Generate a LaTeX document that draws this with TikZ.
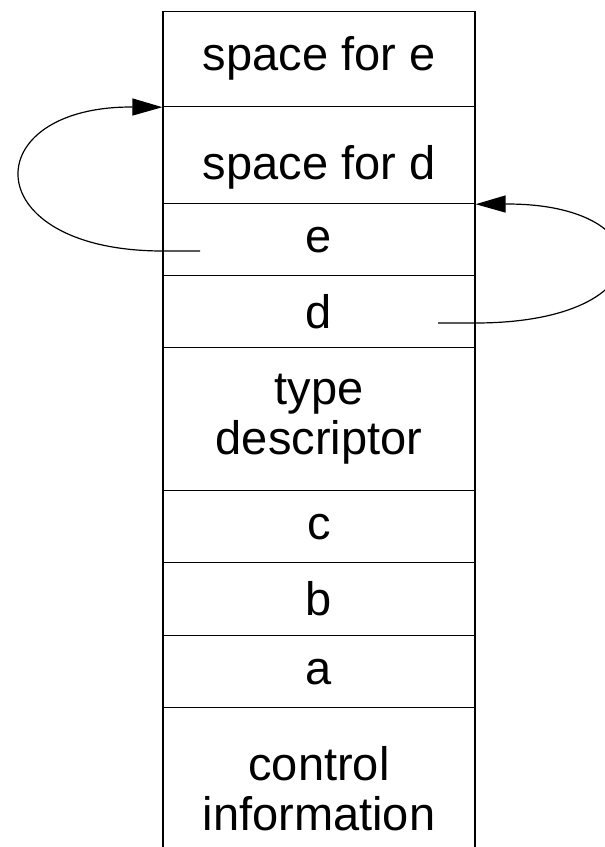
\documentclass[tikz,border=0pt]{standalone}
\usepackage{fontspec}
\setmainfont{Liberation Sans}
\usetikzlibrary{arrows.meta}
\begin{document}
\begin{tikzpicture}[x=1pt,y=-1pt,
  cell/.style={draw, line width=1.2pt, rectangle, inner sep=0pt, minimum width=312pt, anchor=north, align=center,
    font=\fontsize{47}{50}\selectfont},
  ptr/.style={line width=1.2pt, -{Triangle[length=30pt,width=17pt]}}]
\useasboundingbox (0,0) rectangle (605,847);
\node[cell, minimum height=95.5pt] (sfe) at (319,10.5) {space for e};
\node[cell, minimum height=97pt, text height=49pt, text depth=0pt] (sfd) at (319,106) {space for d};
\node[cell, minimum height=72pt] (e) at (319,203) {e};
\node[cell, minimum height=72pt] (d) at (319,275) {d};
\node[cell, minimum height=143pt] (td) at (319,347) {type\\descriptor};
\node[cell, minimum height=72pt] (c) at (319,490) {c};
\node[cell, minimum height=73pt] (b) at (319,562) {b};
\node[cell, minimum height=72pt] (a) at (319,635) {a};
\node[cell, minimum height=162pt] (ci) at (319,707) {control\\information};
\coordinate (eptr) at (200,251);
\coordinate (dptr) at (438,323);
\draw[ptr] (eptr) -- (163,251) .. controls (-25,251) and (-25,106) .. (sfe.south west);
\draw[ptr] (dptr) -- (475,323) .. controls (665,323) and (665,203) .. (sfd.south east);
\end{tikzpicture}
\end{document}
